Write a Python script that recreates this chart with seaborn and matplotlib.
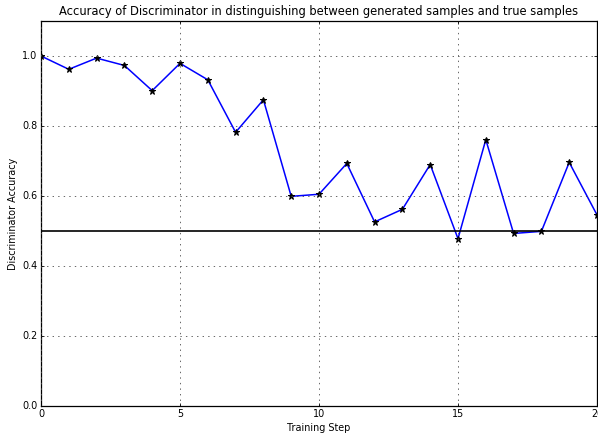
import pandas as pd
import seaborn as sns
import matplotlib.pyplot as plt

# Discriminator accuracy per training step
steps = list(range(21))
accuracy = [1.0, 0.962, 0.994, 0.973, 0.901, 0.979, 0.932, 0.782, 0.875, 0.599,
            0.605, 0.693, 0.526, 0.562, 0.690, 0.478, 0.761, 0.493, 0.499, 0.696,
            0.546]
baseline = 0.5

df = pd.DataFrame({'Training Step': steps, 'Discriminator Accuracy': accuracy})

# Old-school matplotlib look
plt.style.use('classic')
plt.rcParams['figure.facecolor'] = 'white'
plt.rcParams['font.family'] = ['DejaVu Sans']
plt.rcParams['font.size'] = 7

fig, ax = plt.subplots(figsize=(5.98, 4.33), dpi=100)
fig.subplots_adjust(left=41 / 598, right=597 / 598, top=1 - 21 / 433, bottom=1 - 406 / 433)

sns.lineplot(data=df, x='Training Step', y='Discriminator Accuracy', ax=ax,
             color='b', linewidth=1.1, marker='*', markersize=4.5,
             markerfacecolor='k', markeredgecolor='k')
ax.axhline(baseline, color='k', linewidth=1.2)

ax.set_xlim(0, 20)
ax.set_ylim(0, 1.1)
ax.set_xticks([0, 5, 10, 15, 20])
ax.set_yticks([0.0, 0.2, 0.4, 0.6, 0.8, 1.0])
ax.grid(True, color='0.3', linestyle=':', linewidth=0.6)
for s in ax.spines.values():
    s.set_linewidth(0.9)
ax.tick_params(labelsize=6.9, length=2.5, width=0.6, pad=2.5)
ax.set_xlabel('Training Step', fontsize=6.9, labelpad=2.5)
ax.set_ylabel('Discriminator Accuracy', fontsize=6.9, labelpad=3)
ax.set_title('Accuracy of Discriminator in distinguishing between generated samples and true samples',
             fontsize=8.3, pad=4)

fig.savefig('out.png', dpi=100)
